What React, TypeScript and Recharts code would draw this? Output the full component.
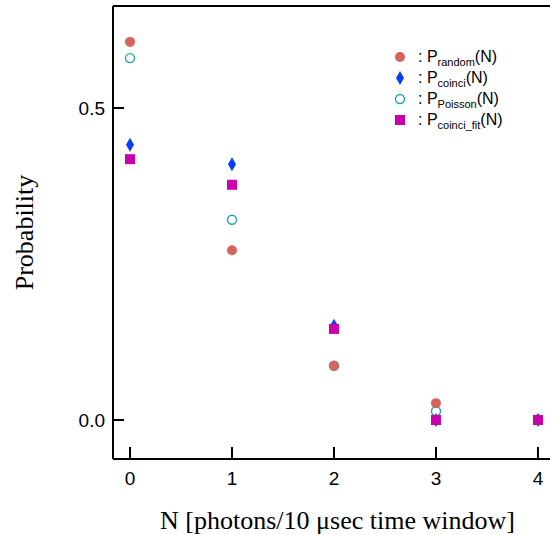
import { ScatterChart, Scatter, XAxis, YAxis, ReferenceLine } from 'recharts';

// photon number N and the four probability distributions
const photonCounts = [0, 1, 2, 3, 4];
const pRandom = [0.606, 0.272, 0.087, 0.027, 0.0];
const pCoinci = [0.441, 0.41, 0.151, 0.0, 0.0];
const pPoisson = [0.58, 0.321, 0.087, 0.014, 0.001];
const pCoinciFit = [0.418, 0.377, 0.146, 0.0, 0.0];

const xTicks = [0, 1, 2, 3, 4];
const yTicks = [0, 0.5];

const X_MIN = -0.1667;
const X_MAX = 4.118;
const Y_MIN = -0.0625;
const Y_MAX = 0.6635;

const RED = '#d9625e';
const BLUE = '#0a3cff';
const TEAL = '#1ea7a7';
const MAGENTA = '#cc00aa';

const toPoints = (vals: number[]) => photonCounts.map((n, i) => ({ n, p: vals[i] }));

const Dot = ({ cx, cy }: any) => <circle cx={cx} cy={cy} r={5} fill={RED} />;
const Ring = ({ cx, cy }: any) => (
  <circle cx={cx} cy={cy} r={4.5} fill="none" stroke={TEAL} strokeWidth={1.4} />
);
const Diamond = ({ cx, cy }: any) => (
  <path d={`M${cx},${cy - 7}L${cx + 4},${cy}L${cx},${cy + 7}L${cx - 4},${cy}Z`} fill={BLUE} />
);
const Square = ({ cx, cy }: any) => (
  <rect x={cx - 5} y={cy - 5} width={10} height={10} fill={MAGENTA} />
);

const legendRows = [
  { sub: 'random', icon: <circle cx={8} cy={8} r={5} fill={RED} /> },
  { sub: 'coinci', icon: <path d="M8,1L12,8L8,15L4,8Z" fill={BLUE} /> },
  { sub: 'Poisson', icon: <circle cx={8} cy={8} r={4.5} fill="none" stroke={TEAL} strokeWidth={1.4} /> },
  { sub: 'coinci_fit', icon: <rect x={3} y={3} width={10} height={10} fill={MAGENTA} /> },
];

function LegendBox() {
  return (
    <div
      style={{
        position: 'absolute',
        top: 46,
        left: 392,
        fontFamily: '"Liberation Sans", Arial, sans-serif',
        fontSize: 16,
        color: '#000',
      }}
    >
      {legendRows.map((r) => (
        <div key={r.sub} style={{ display: 'flex', alignItems: 'center', height: 21 }}>
          <svg width={16} height={16} style={{ marginRight: 10 }}>
            {r.icon}
          </svg>
          <span>
            : P<span style={{ fontSize: 11, position: 'relative', top: 4 }}>{r.sub}</span>(N)
          </span>
        </div>
      ))}
    </div>
  );
}

function YTitle({ viewBox }: any) {
  const x = 24;
  const y = viewBox.y + viewBox.height / 2;
  return (
    <text
      x={x}
      y={y}
      transform={`rotate(-90, ${x}, ${y})`}
      textAnchor="middle"
      dominantBaseline="central"
      fontFamily='"Liberation Serif", "Times New Roman", serif'
      fontSize={26}
      fill="#000"
    >
      Probability
    </text>
  );
}

const tickFont = { fill: '#000', fontSize: 19, fontFamily: '"Liberation Sans", Arial, sans-serif' };

export default function App() {
  return (
    <div style={{ position: 'absolute', left: 0, top: 0, width: 550, height: 535, background: '#fff' }}>
      <ScatterChart width={550} height={535} margin={{ top: 6, right: 0, bottom: 0, left: 0 }}>
        <XAxis
          dataKey="n"
          type="number"
          domain={[X_MIN, X_MAX]}
          ticks={xTicks}
          allowDataOverflow
          height={76}
          stroke="#000"
          strokeWidth={2}
          tickSize={-12}
          tickMargin={25}
          tick={tickFont}
          label={{
            value: 'N [photons/10 \u03bcsec time window]',
            position: 'insideBottom',
            offset: 6,
            dx: 6,
            fill: '#000',
            fontSize: 26,
            fontFamily: '"Liberation Serif", "Times New Roman", serif',
          }}
        />
        <YAxis
          dataKey="p"
          type="number"
          domain={[Y_MIN, Y_MAX]}
          ticks={yTicks}
          allowDataOverflow
          width={113}
          stroke="#000"
          strokeWidth={2}
          tickSize={-11}
          tickMargin={19}
          tick={tickFont}
          tickFormatter={(v: number) => v.toFixed(1)}
          label={<YTitle />}
        />
        <ReferenceLine y={Y_MAX} stroke="#000" strokeWidth={2} ifOverflow="visible" />
        <Scatter name="Poisson" data={toPoints(pPoisson)} shape={<Ring />} isAnimationActive={false} />
        <Scatter name="random" data={toPoints(pRandom)} shape={<Dot />} isAnimationActive={false} />
        <Scatter name="coinci" data={toPoints(pCoinci)} shape={<Diamond />} isAnimationActive={false} />
        <Scatter name="coinci_fit" data={toPoints(pCoinciFit)} shape={<Square />} isAnimationActive={false} />
      </ScatterChart>
      <LegendBox />
    </div>
  );
}
